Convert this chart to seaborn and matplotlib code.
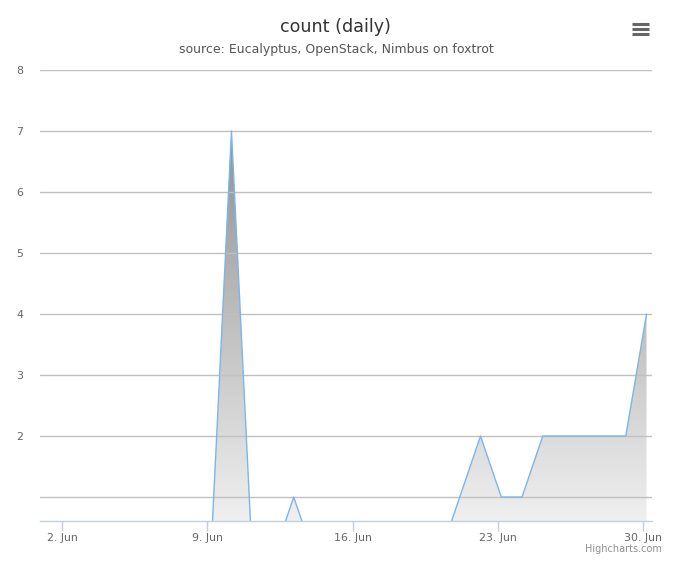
import numpy as np
import pandas as pd
import matplotlib
matplotlib.use("Agg")
import matplotlib.pyplot as plt
import matplotlib.dates as mdates
from matplotlib.colors import LinearSegmentedColormap
from matplotlib.lines import Line2D
import seaborn as sns

# ---- data ----
days = list(range(1, 31))  # June
counts = [0, 0, 0, 0, 0, 0, 0, 0, 0, 7,
          0, 0, 1, 0, 0, 0, 0, 0, 0, 0,
          1, 2, 1, 1, 2, 2, 2, 2, 2, 4]
tick_days = [2, 9, 16, 23, 30]
y_ticks = [1, 2, 3, 4, 5, 6, 7, 8]
y_tick_labels = ["", "2", "3", "4", "5", "6", "7", "8"]
title = "count (daily)"
subtitle = "source: Eucalyptus, OpenStack, Nimbus on foxtrot"

sample_hour = 4  # sample timestamp within each day
dates = pd.to_datetime([f"2014-06-{d:02d}" for d in days]) + pd.Timedelta(hours=sample_hour)
df = pd.DataFrame({"date": dates, "count": counts})

sns.set_theme(style="white")
plt.rcParams["font.family"] = ["DejaVu Sans"]

W, H = 680, 566
fig = plt.figure(figsize=(W / 100, H / 100), dpi=100)
ax = fig.add_axes([40 / W, 45 / H, (652 - 40) / W, (521 - 70) / H])

x_num = mdates.date2num(df["date"])
y_lo = 0.607
x_left = mdates.date2num(pd.Timestamp("2014-06-02")) - 1.06
x_right = mdates.date2num(pd.Timestamp("2014-06-02")) + 28.43

# gradient fill clipped to the area
poly = ax.fill_between(x_num, 0, df["count"].values, facecolor="none", edgecolor="none")
clip_path = poly.get_paths()[0]
cmap = LinearSegmentedColormap.from_list("g", ["#ebebeb", "#6b6b6b"])
grad = np.linspace(0, 1, 256).reshape(-1, 1)
im = ax.imshow(grad, cmap=cmap, aspect="auto", origin="lower",
               extent=[x_num.min(), x_num.max(), y_lo, max(counts)],
               alpha=0.75, zorder=1, interpolation="bilinear")
im.set_clip_path(clip_path, transform=ax.transData)

sns.lineplot(data=df, x="date", y="count", ax=ax, color="#7cb5ec", linewidth=1.0, zorder=3)

ax.set_xlim(x_left, x_right)
ax.set_ylim(y_lo, 8)
ax.set_yticks(y_ticks)
ax.set_yticklabels(y_tick_labels)
tick_dates = pd.to_datetime([f"2014-06-{d:02d}" for d in tick_days])
ax.set_xticks(mdates.date2num(tick_dates))
ax.set_xticklabels([f"{d}. Jun" for d in tick_days])
ax.set_xlabel("")
ax.set_ylabel("")

ax.grid(axis="y", color="#c0c0c0", linewidth=1.0)
ax.grid(axis="x", visible=False)
ax.set_axisbelow(False)
for side in ["top", "right", "left"]:
    ax.spines[side].set_visible(False)
ax.spines["bottom"].set_color("#c0d0e0")
ax.spines["bottom"].set_linewidth(1.0)
ax.spines["bottom"].set_zorder(4)

ax.tick_params(axis="x", which="major", length=7.2, width=1, color="#c0d0e0",
               labelsize=7.9, labelcolor="#666666", pad=1.5, bottom=True, direction="out")
ax.tick_params(axis="y", length=0, labelsize=7.9, labelcolor="#666666", pad=12)

# title / subtitle
fig.text(335 / W, 1 - 27 / H, title, ha="center", va="center", fontsize=12.6, color="#333333")
fig.text(336 / W, 1 - 50 / H, subtitle, ha="center", va="center", fontsize=9.0, color="#555555")
# credit
fig.text(662 / W, 1 - 549 / H, "Highcharts.com", ha="right", va="center", fontsize=7.0, color="#909090")

# context menu icon
for yy in [24.3, 29.3, 34.3]:
    fig.add_artist(Line2D([632 / W, 649 / W], [1 - yy / H, 1 - yy / H],
                          transform=fig.transFigure, color="#666666", linewidth=2.2,
                          solid_capstyle="butt"))

fig.savefig("out.png", dpi=100)
